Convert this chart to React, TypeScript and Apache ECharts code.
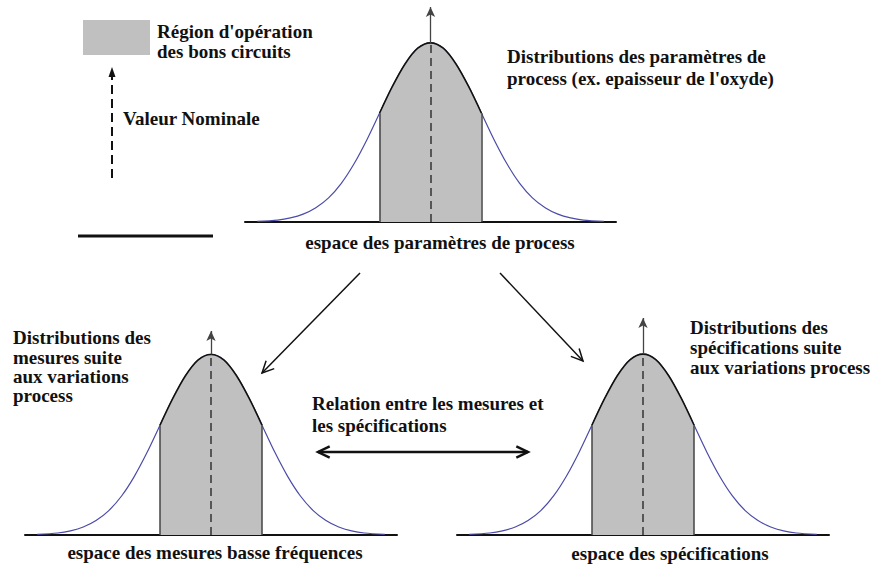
import React, { useEffect, useRef } from "react";
import * as echarts from "echarts";

// Relative height of each distribution, read along the axis in units of sigma
const CURVE_X = [-3.4, -3.0, -2.75, -2.5, -2.25, -2.0, -1.75, -1.5, -1.25, -1.0, -0.75, -0.5, -0.25, 0, 0.25, 0.5, 0.75, 1.0, 1.25, 1.5, 1.75, 2.0, 2.25, 2.5, 2.75, 3.0, 3.4];
const CURVE_Y = [0.003, 0.011, 0.023, 0.044, 0.08, 0.135, 0.216, 0.325, 0.458, 0.607, 0.755, 0.882, 0.97, 1.0, 0.97, 0.882, 0.755, 0.607, 0.458, 0.325, 0.216, 0.135, 0.08, 0.044, 0.023, 0.011, 0.003];
// Good-circuit region (shaded) bounds, and nominal value
const GOOD_LOW = -1.0;
const GOOD_HIGH = 1.0;
const NOMINAL = 0;
const NOMINAL_PEAK = 1.0;
// Panels and the height reached by each nominal-value arrow
const PANEL_NAMES = ["espace des paramètres de process", "espace des mesures basse fréquences", "espace des spécifications"];
const ARROW_TOP = [1.2, 1.13, 1.2];
const X_RANGE = 3.64;

const GRIDS = [
  { left: 245, top: 7, width: 371, height: 215 },
  { left: 25, top: 331, width: 372, height: 204 },
  { left: 457, top: 318, width: 372, height: 217 },
];

const INK = "#111";
const SERIF = "'Liberation Serif', 'Times New Roman', 'DejaVu Serif', serif";

function chevron(tx: number, ty: number, fx: number, fy: number, len: number, angDeg: number) {
  const dx = fx - tx;
  const dy = fy - ty;
  const d = Math.hypot(dx, dy);
  const ux = dx / d;
  const uy = dy / d;
  const a = (angDeg * Math.PI) / 180;
  const rot = (s: number) => [
    tx + len * (ux * Math.cos(s * a) - uy * Math.sin(s * a)),
    ty + len * (ux * Math.sin(s * a) + uy * Math.cos(s * a)),
  ];
  return [rot(1), [tx, ty], rot(-1)];
}

function arrowLine(x1: number, y1: number, x2: number, y2: number, width: number, both: boolean) {
  const els: any[] = [
    { type: "line", shape: { x1, y1, x2, y2 }, style: { stroke: INK, lineWidth: width } },
    { type: "polyline", shape: { points: chevron(x2, y2, x1, y1, 13, 26) }, style: { stroke: INK, lineWidth: width, fill: null } },
  ];
  if (both) {
    els.push({ type: "polyline", shape: { points: chevron(x1, y1, x2, y2, 13, 26) }, style: { stroke: INK, lineWidth: width, fill: null } });
  }
  return els;
}

function text(t: string, x: number, y: number, lineHeight = 20, align = "left", vAlign = "top") {
  return {
    type: "text",
    x,
    y,
    style: {
      text: t,
      fontFamily: SERIF,
      fontSize: 19,
      fontWeight: "bold",
      fill: INK,
      lineHeight,
      align,
      verticalAlign: vAlign,
    },
  };
}

export default function App() {
  const ref = useRef<HTMLDivElement>(null);

  useEffect(() => {
    if (!ref.current) return;
    const chart = echarts.init(ref.current, null, { renderer: "svg" });

    const full = CURVE_X.map((x, i) => [x, CURVE_Y[i]]);
    const good = CURVE_X.map((x, i) => [x, CURVE_Y[i]]).filter((p) => p[0] >= GOOD_LOW && p[0] <= GOOD_HIGH);
    const edgeY = (x: number) => CURVE_Y[CURVE_X.indexOf(x)];

    const series: any[] = [];
    GRIDS.forEach((_, gi) => {
      series.push({
        type: "line",
        xAxisIndex: gi,
        yAxisIndex: gi,
        data: full,
        smooth: 0.3,
        showSymbol: false,
        silent: true,
        z: 2,
        lineStyle: { color: "#4b4ba8", width: 1.2 },
      });
      series.push({
        type: "line",
        xAxisIndex: gi,
        yAxisIndex: gi,
        data: good,
        smooth: 0.3,
        showSymbol: false,
        silent: true,
        z: 3,
        lineStyle: { color: "#111", width: 1.6 },
        areaStyle: { color: "#c0c0c0", opacity: 1 },
        markLine: {
          silent: true,
          symbol: "none",
          animation: false,
          label: { show: false },
          data: [
            [
              { coord: [GOOD_LOW, 0], lineStyle: { color: "#444", width: 1.5, type: "solid" } },
              { coord: [GOOD_LOW, edgeY(GOOD_LOW)] },
            ],
            [
              { coord: [GOOD_HIGH, 0], lineStyle: { color: "#444", width: 1.5, type: "solid" } },
              { coord: [GOOD_HIGH, edgeY(GOOD_HIGH)] },
            ],
            [
              { coord: [NOMINAL, 0], lineStyle: { color: "#333", width: 1.5, type: [8, 5] } },
              { coord: [NOMINAL, NOMINAL_PEAK] },
            ],
            [
              { coord: [NOMINAL, NOMINAL_PEAK], symbol: "none", lineStyle: { color: "#444", width: 1.3, type: "solid" } },
              { coord: [NOMINAL, ARROW_TOP[gi]], symbol: "arrow", symbolSize: [7, 10] },
            ],
          ],
        },
      });
    });

    const graphic: any[] = [
      { type: "rect", shape: { x: 83, y: 20, width: 67, height: 35 }, style: { fill: "#c0c0c0" } },
      { type: "line", shape: { x1: 112, y1: 178, x2: 112, y2: 76 }, style: { stroke: INK, lineWidth: 2, lineDash: [9, 5] } },
      { type: "polygon", shape: { points: [[112, 67], [108.5, 77], [115.5, 77]] }, style: { fill: INK } },
      { type: "line", shape: { x1: 78, y1: 236, x2: 213, y2: 236 }, style: { stroke: INK, lineWidth: 3 } },
      text("Région d'opération\ndes bons circuits", 157, 21, 20),
      text("Valeur Nominale", 123, 118, 20, "left", "middle"),
      text("Distributions des paramètres de\nprocess (ex. epaisseur de l'oxyde)", 507, 45, 22),
      text(PANEL_NAMES[0], 440, 242, 20, "center", "middle"),
      text("Distributions des\nmesures suite\naux variations\nprocess", 13, 328, 19.4),
      text(PANEL_NAMES[1], 215, 552, 20, "center", "middle"),
      text("Distributions des\nspécifications suite\naux variations process", 690, 317, 20),
      text(PANEL_NAMES[2], 670, 553, 20, "center", "middle"),
      text("Relation entre les mesures et\nles spécifications", 312, 392, 22),
      ...arrowLine(360, 273, 262, 373, 1.5, false),
      ...arrowLine(500, 273, 583, 361, 1.5, false),
      ...arrowLine(318, 452, 528, 452, 2.5, true),
    ];

    chart.setOption({
      animation: false,
      backgroundColor: "#ffffff",
      textStyle: { fontFamily: SERIF },
      grid: GRIDS.map((g) => ({ ...g, containLabel: false })),
      xAxis: GRIDS.map((_, gi) => ({
        type: "value",
        gridIndex: gi,
        min: -X_RANGE,
        max: X_RANGE,
        axisLine: { show: true, onZero: false, lineStyle: { color: "#111", width: 2 } },
        axisTick: { show: false },
        axisLabel: { show: false },
        splitLine: { show: false },
      })),
      yAxis: GRIDS.map((_, gi) => ({
        type: "value",
        gridIndex: gi,
        min: 0,
        max: ARROW_TOP[gi],
        show: false,
        splitLine: { show: false },
      })),
      series,
      graphic,
    });

    return () => chart.dispose();
  }, []);

  return (
    <div
      ref={ref}
      style={{ position: "fixed", left: 0, top: 0, width: 875, height: 567, background: "#fff" }}
    />
  );
}
